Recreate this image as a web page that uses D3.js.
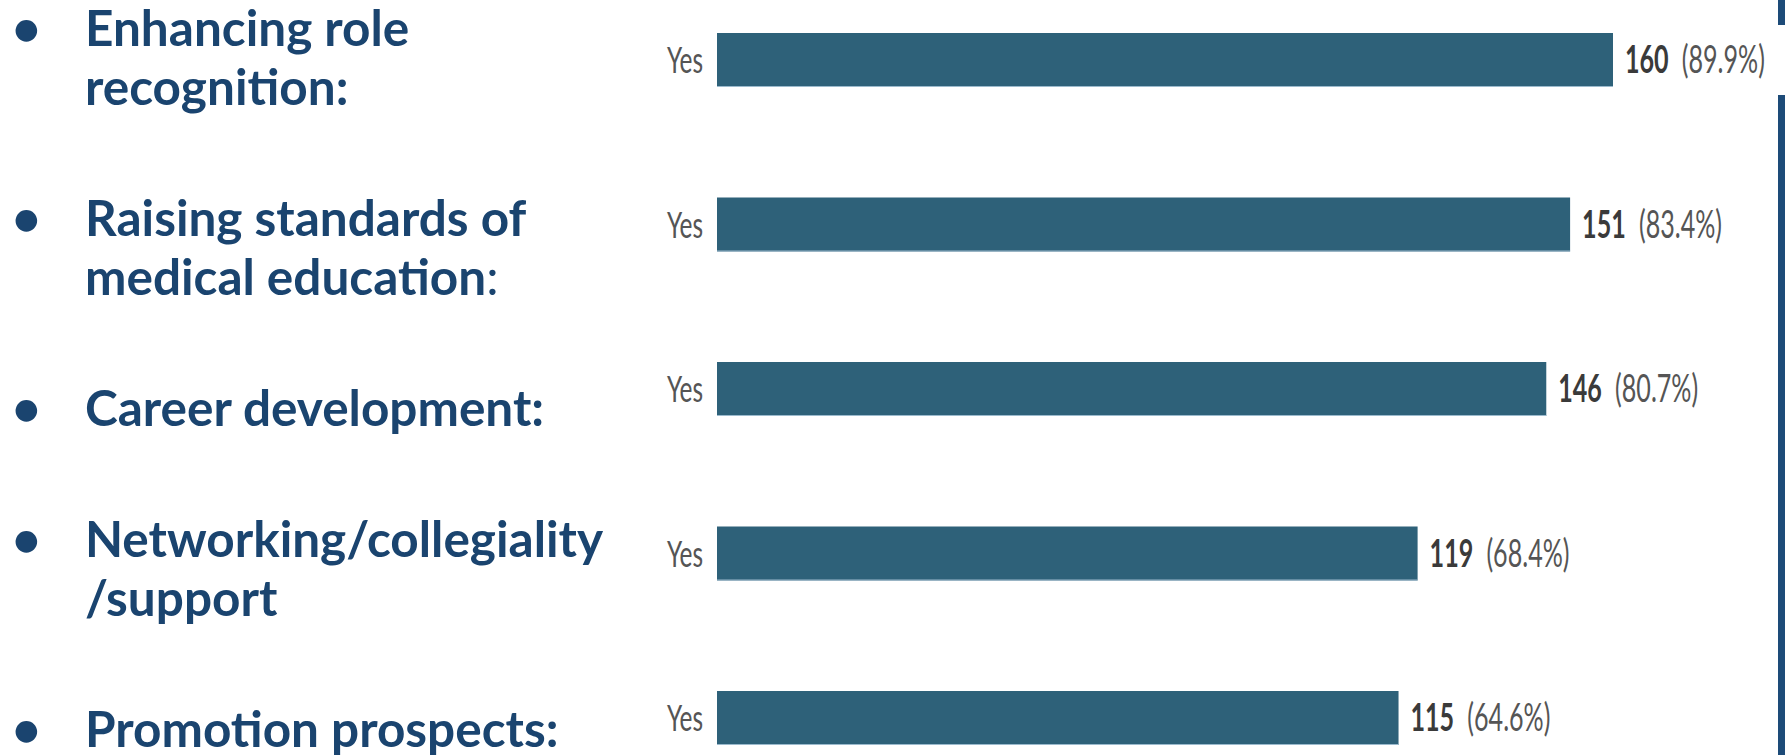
<!DOCTYPE html>
<html><head><meta charset="utf-8">
<script src="https://cdn.jsdelivr.net/npm/d3@7"></script>
<style>html,body{margin:0;padding:0;background:#fff;overflow:hidden} svg{display:block}</style>
</head><body>
<svg id="chart" width="1785" height="755"></svg>
<script>
// ---- data ----
const categories = [
  "Enhancing role recognition",
  "Raising standards of medical education",
  "Career development",
  "Networking/collegiality/support",
  "Promotion prospects"
];
const labelLines = [
  ["Enhancing role", "recognition:"],
  ["Raising standards of", "medical education:"],
  ["Career development:"],
  ["Networking/collegiality", "/support"],
  ["Promotion prospects:"]
];
const answers = ["Yes", "Yes", "Yes", "Yes", "Yes"];
const counts = [160, 151, 146, 119, 115];
const percents = [89.9, 83.4, 80.7, 68.4, 64.6];
const xDomain = [-28, 160];

// ---- layout ----
const W = 1785, H = 755;
const svg = d3.select("#chart");
svg.append("rect").attr("width", W).attr("height", H).attr("fill", "#fff");

const x = d3.scaleLinear().domain(xDomain).range([717, 1613]);
const y = d3.scalePoint().domain(categories).range([60, 718]);
const barH = 54;
const squeeze = 0.66;

const rows = categories.map((c, i) => ({c, i, n: counts[i], p: percents[i], a: answers[i]}));

// bars
const g = svg.append("g");
g.selectAll("rect.bar").data(rows).join("rect")
  .attr("class", "bar")
  .attr("x", x.range()[0])
  .attr("y", d => y(d.c) - barH / 2)
  .attr("width", d => x(d.n) - x.range()[0])
  .attr("height", barH)
  .attr("fill", "#2e6179");
g.selectAll("line.edge").data(rows).join("line")
  .attr("class", "edge")
  .attr("x1", x.range()[0]).attr("x2", d => x(d.n))
  .attr("y1", d => y(d.c) + barH / 2 - 0.5).attr("y2", d => y(d.c) + barH / 2 - 0.5)
  .attr("stroke", "#9bbacd").attr("stroke-width", 1.2);

// "Yes" labels
g.selectAll("text.ans").data(rows).join("text")
  .attr("class", "ans")
  .attr("transform", d => `translate(${x.range()[0] - 14},${y(d.c) + 13}) scale(${squeeze},1)`)
  .attr("text-anchor", "end")
  .attr("font-family", "Lato, 'Open Sans', sans-serif")
  .attr("font-size", 37)
  .attr("fill", "#555")
  .text(d => d.a);

// value labels
const vl = g.selectAll("text.val").data(rows).join("text")
  .attr("class", "val")
  .attr("transform", d => `translate(${x(d.n) + 12},${y(d.c) + 13}) scale(${squeeze},1)`)
  .attr("font-family", "Lato, 'Open Sans', sans-serif")
  .attr("font-size", 38);
vl.append("tspan").attr("font-weight", 700).attr("fill", "#3a3a3a").text(d => d.n);
vl.append("tspan").attr("dx", 20).attr("font-weight", 400).attr("fill", "#555")
  .text(d => `(${d.p.toFixed(1)}%)`);

// right frame line (interrupted by the first row's label patch)
const lineColor = "#1d4b78";
[[0, 25], [95, H]].forEach(([a, b]) => {
  svg.append("rect").attr("x", 1778).attr("y", a).attr("width", 7).attr("height", b - a).attr("fill", lineColor);
});

// left bullet text flow
const lineStep = 59, paraGap = 72, firstBaseline = 46, textX = 85;
const regularColonItems = new Set(["Raising standards of medical education"]);
const tg = svg.append("g")
  .attr("font-family", "Lato, 'Open Sans', sans-serif")
  .attr("font-weight", 700)
  .attr("font-size", 49.5)
  .attr("fill", "#1a446f");
let yb = firstBaseline;
labelLines.forEach((lines, i) => {
  lines.forEach((ln, j) => {
    if (j === 0) {
      tg.append("text").attr("x", 12).attr("y", yb).text("•");
    }
    const t = tg.append("text").attr("x", textX).attr("y", yb);
    if (j === lines.length - 1 && regularColonItems.has(categories[i]) && ln.endsWith(":")) {
      t.append("tspan").text(ln.slice(0, -1));
      t.append("tspan").attr("font-weight", 400).text(":");
    } else {
      t.text(ln);
    }
    yb += lineStep;
  });
  yb += paraGap;
});
</script>
</body></html>
